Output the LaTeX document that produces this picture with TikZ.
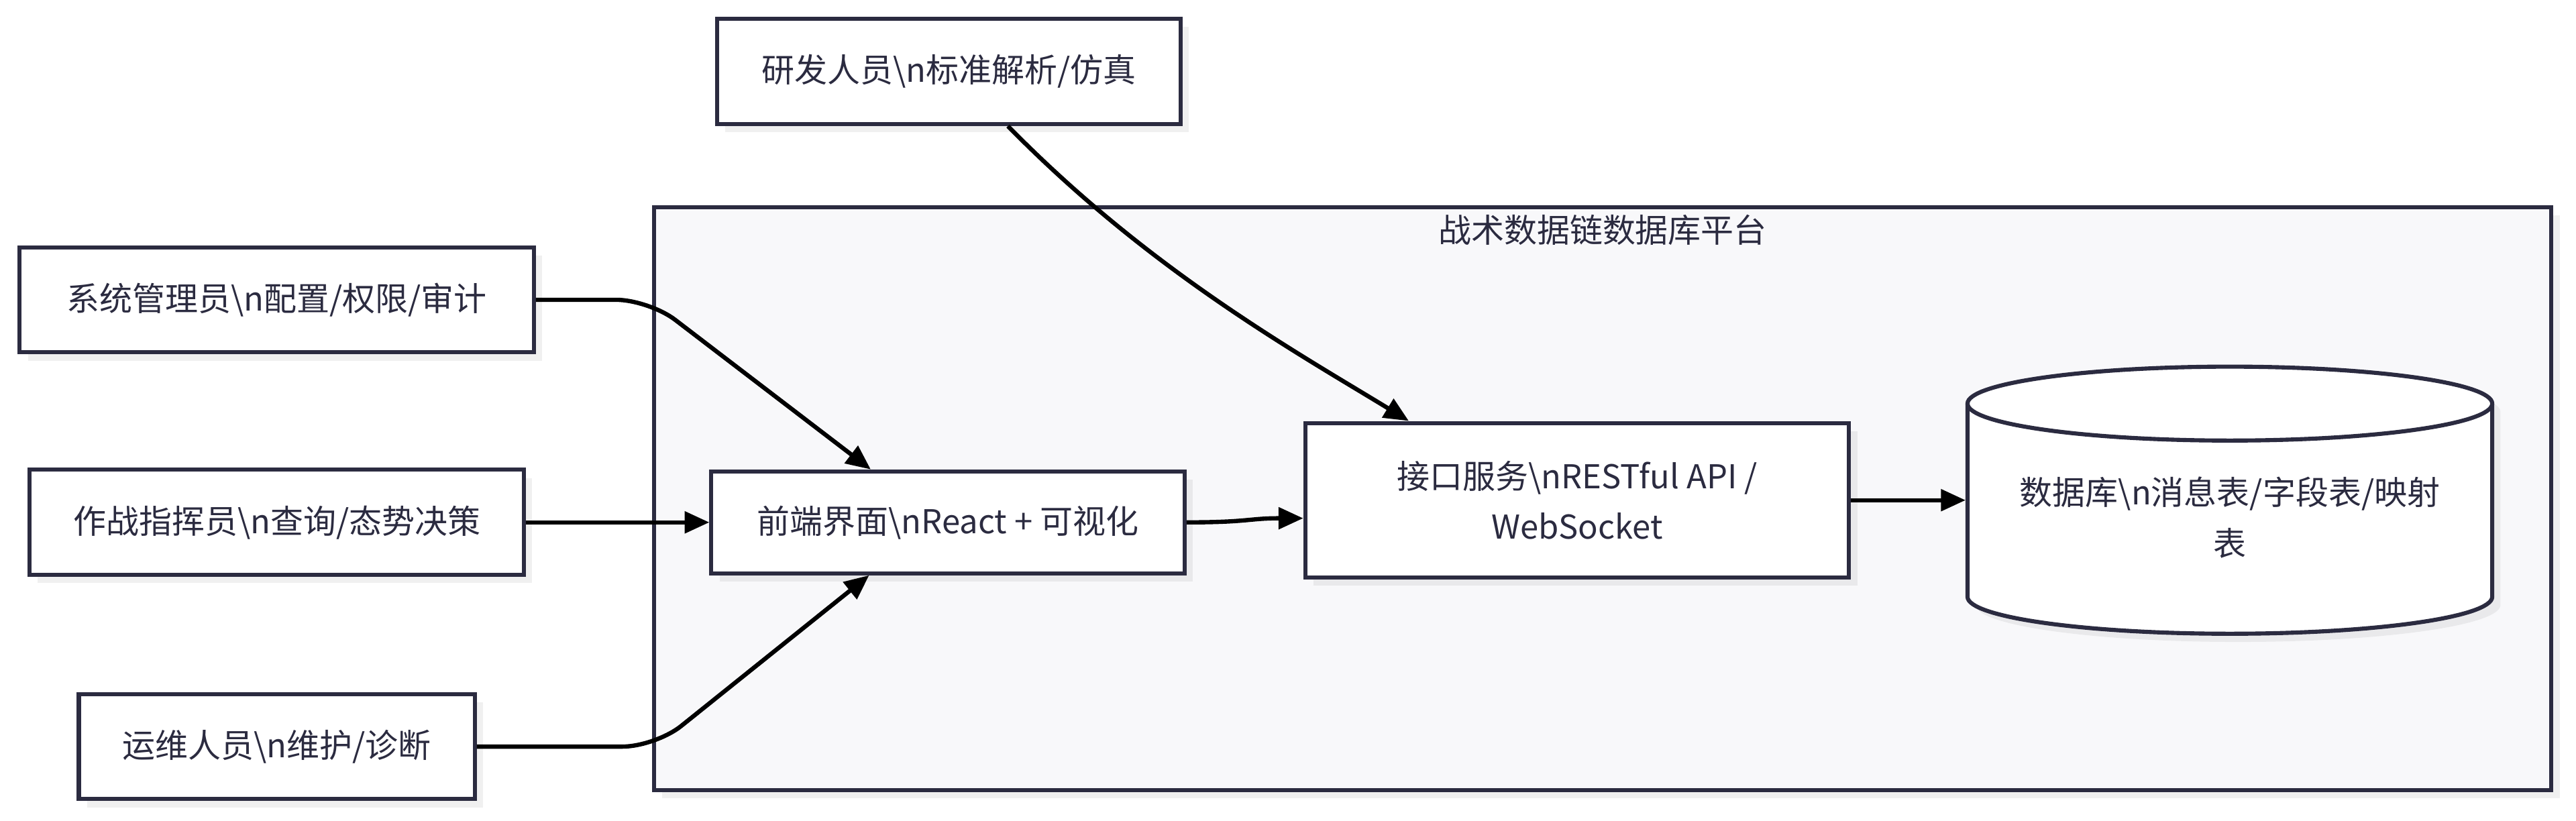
\documentclass[tikz,border=0pt]{standalone}
\usepackage{fontspec}
\setmainfont{Noto Sans CJK SC}
\usetikzlibrary{arrows.meta,calc,shadows}
\definecolor{bord}{HTML}{2B2B40}
\definecolor{clfill}{HTML}{F8F8FA}
\newcommand\nodefnt{\fontsize{20}{31}\selectfont}
\begin{document}
\begin{tikzpicture}[x=1pt,y=-1pt,
  shade/.style={drop shadow={shadow xshift=5pt,shadow yshift=-5pt,fill=black,opacity=0.06}},
  box/.style={draw=bord,line width=2.5pt,fill=white,text=bord,align=center,font=\nodefnt,inner sep=0pt,shade},
  conn/.style={line width=2.6pt,draw=black,-{Triangle[length=15pt,width=13pt]}},
  lbl/.style={text=bord,align=center,font=\nodefnt,inner sep=0pt}]
\useasboundingbox (0,0) rectangle (1568,499.4);
\fill[white] (0,0) rectangle (1568,499.4);
% cluster
\node[draw=bord,line width=2.5pt,fill=clfill,shade,minimum width=1155pt,minimum height=355pt,inner sep=0pt] (cl) at (975.5,303.5) {};
\node[lbl] (cltitle) at (975.5,140) {战术数据链数据库平台};
% outside nodes
\node[box,minimum width=282pt,minimum height=64pt] (dev) at (577.5,43.5) {研发人员\textbackslash n标准解析/仿真};
\node[box,minimum width=313pt,minimum height=64pt] (admin) at (168.5,182.5) {系统管理员\textbackslash n配置/权限/审计};
\node[box,minimum width=301pt,minimum height=64pt] (cmd) at (168.5,318) {作战指挥员\textbackslash n查询/态势决策};
\node[box,minimum width=241pt,minimum height=64pt] (ops) at (168.5,454.5) {运维人员\textbackslash n维护/诊断};
% inside nodes
\node[box,minimum width=288pt,minimum height=62pt] (fe) at (577,318) {前端界面\textbackslash nReact + 可视化};
\node[box,minimum width=331pt,minimum height=94pt] (api) at (960,304.5) {接口服务\textbackslash nRESTful API /\\WebSocket};
% database cylinder
\fill[black,opacity=0.06] (1202.6,250.7) -- (1202.6,368.3) arc[start angle=180,end angle=360,x radius=159.7pt,y radius=22.5pt] -- (1522,250.7) arc[start angle=0,end angle=180,x radius=159.7pt,y radius=22.5pt] -- cycle;
\draw[bord,line width=2.5pt,fill=white] (1197.6,245.7) -- (1197.6,363.3) arc[start angle=180,end angle=360,x radius=159.7pt,y radius=22.5pt] -- (1517,245.7) arc[start angle=0,end angle=180,x radius=159.7pt,y radius=22.5pt] -- cycle;
\draw[bord,line width=2.5pt] (1197.6,245.7) arc[start angle=180,end angle=360,x radius=159.7pt,y radius=22.5pt];
\node[lbl,minimum width=319pt,minimum height=120pt] (db) at (1357.3,315) {数据库\textbackslash n消息表/字段表/映射\\表};
% connectors
\draw[conn,rounded corners=20pt] (admin.east) -- (395,182.5) -- ($(fe.north)+(-47,0)$);
\draw[conn] (cmd.east) -- (fe.west);
\draw[conn,rounded corners=20pt] (ops.east) -- (399,454.5) -- ($(fe.south)+(-48,0)$);
\draw[conn] ($(dev.south)+(36,0)$) .. controls (700,165) and (790,215) .. ($(api.north)+(-102.5,0)$);
\draw[conn] (fe.east) .. controls (760,318) and (760,315.5) .. ($(api.west)+(0,11)$);
\draw[conn] (api.east) -- (api.east -| 1196.4,0);
\end{tikzpicture}
\end{document}
